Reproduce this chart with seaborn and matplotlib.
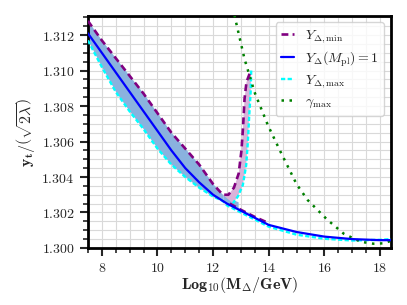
import numpy as np
import pandas as pd
import matplotlib
matplotlib.use("Agg")
import matplotlib.pyplot as plt
import seaborn as sns
from matplotlib.ticker import MultipleLocator, FuncFormatter

# === Values ===
# Y_Delta(M_pl) = 1  (blue, solid)
x_blue = [7.5, 8.0, 8.5, 9.0, 9.5, 10.0, 10.5, 11.0, 11.5, 12.0, 12.5, 13.0, 13.5, 14.0,
          15.0, 16.0, 17.0, 18.0, 18.4]
y_blue = [1.3121, 1.3110, 1.3099, 1.3088, 1.3077, 1.3066, 1.3055, 1.3045, 1.3037, 1.3030,
          1.3025, 1.3021, 1.3017, 1.3013, 1.3009, 1.30064, 1.30050, 1.30044, 1.30044]

# band edges on a common grid: Y_min (upper, purple) and Y_max (lower, cyan)
x_band = [7.5, 8.0, 8.5, 9.0, 9.5, 10.0, 10.5, 11.0, 11.5, 12.0, 12.35]
y_min_band = [1.3128, 1.3117, 1.3107, 1.3097, 1.3087, 1.3076, 1.3065, 1.3056, 1.3047, 1.3036, 1.3030]
y_max_band = [1.3117, 1.3102, 1.3088, 1.3077, 1.3067, 1.3056, 1.3047, 1.3040, 1.3034, 1.3029, 1.30265]

# shaded strip under the foot of the spike
x_foot = [12.35, 12.6, 12.9]
y_foot_top = [1.3030, 1.3028, 1.3026]
y_foot_bot = [1.30265, 1.3024, 1.30215]

# Y_min: bend into the spike
x_min_spike = [12.35, 12.55, 12.75, 12.92, 13.02, 13.08, 13.13, 13.20, 13.33]
y_min_spike = [1.3030, 1.3030, 1.3034, 1.3042, 1.3055, 1.3069, 1.3084, 1.30935, 1.3099]
# Y_min: short branch running along the band after the spike
x_min_tail = [12.6, 13.0, 13.5, 14.0]
y_min_tail = [1.3025, 1.30215, 1.30175, 1.3014]

# Y_max: right side of the spike (top to bottom), then the lower edge to the end
x_max_spike = [13.37, 13.35, 13.30, 13.25, 13.19, 13.07, 12.89, 12.71]
y_max_spike = [1.3100, 1.30878, 1.30748, 1.30598, 1.30467, 1.30355, 1.30290, 1.30252]
x_max_tail = [12.35, 12.5, 13.0, 13.5, 14.0, 15.0, 16.0, 17.0, 18.0, 18.4]
y_max_tail = [1.30265, 1.3024, 1.3020, 1.3016, 1.3012, 1.30075, 1.30052, 1.30042, 1.30046, 1.3005]

# gamma_max (green, dotted)
x_gam = [12.6, 12.77, 13.13, 13.49, 13.97, 14.4, 15.0, 15.4, 16.1, 16.7, 17.3, 17.76, 18.1, 18.4]
y_gam = [1.3140, 1.3131, 1.31065, 1.30878, 1.30692, 1.3055, 1.3036, 1.3027, 1.3016, 1.3008,
         1.30035, 1.30024, 1.30026, 1.3004]

sns.set_style("white")
plt.rcParams.update({
    "font.family": ["DejaVu Serif"],
    "mathtext.fontset": "cm",
})

fig = plt.figure(figsize=(4.07, 3.05), dpi=100)
ax = fig.add_axes([0.216, 0.187, 0.745, 0.762])

# === Shaded regions ===
band_col = "#8ab2de"
ax.fill_between(x_band, y_max_band, y_min_band, color=band_col, lw=0, zorder=1)
ax.fill_between(x_foot, y_foot_bot, y_foot_top, color=band_col, lw=0, zorder=1)
spike_x = x_min_spike + x_max_spike
spike_y = y_min_spike + y_max_spike
ax.fill(spike_x, spike_y, color="#d9b3d9", lw=0, zorder=1)

# === Lines ===
purple = "#800080"
dash_p = (0, (2.6, 1.6))
dash_c = (0, (1.8, 1.0))
min_df = pd.DataFrame({"x": x_band + x_min_spike[1:], "y": y_min_band + y_min_spike[1:]})
sns.lineplot(data=min_df, x="x", y="y", ax=ax, sort=False, estimator=None, color=purple,
             lw=1.9, ls=dash_p, label=r"$Y_{\Delta,\min}$", zorder=4)
sns.lineplot(x=x_min_tail, y=y_min_tail, ax=ax, sort=False, estimator=None, color=purple,
             lw=1.9, ls=dash_p, zorder=4)

max_df = pd.DataFrame({"x": x_band + x_max_tail[1:], "y": y_max_band + y_max_tail[1:]})
sns.lineplot(x=x_blue, y=y_blue, ax=ax, sort=False, estimator=None, color="blue",
             lw=1.6, label=r"$Y_\Delta(M_{\rm pl})=1$", zorder=5)
sns.lineplot(data=max_df, x="x", y="y", ax=ax, sort=False, estimator=None, color="cyan",
             lw=1.7, ls=dash_c, label=r"$Y_{\Delta,\max}$", zorder=3)
sns.lineplot(x=x_max_spike, y=y_max_spike, ax=ax, sort=False, estimator=None, color="cyan",
             lw=1.7, ls=dash_c, zorder=3)
sns.lineplot(x=x_gam, y=y_gam, ax=ax, sort=False, estimator=None, color="green",
             lw=1.8, ls=(0, (1, 2.2)), label=r"$\gamma_{\max}$", zorder=3)

# === Axes ===
ax.set_xlim(7.5, 18.4)
ax.set_ylim(1.300, 1.3131)
ax.xaxis.set_major_locator(MultipleLocator(2))
ax.xaxis.set_minor_locator(MultipleLocator(0.5))
ax.yaxis.set_major_locator(MultipleLocator(0.002))
ax.yaxis.set_minor_locator(MultipleLocator(0.0005))
ax.xaxis.set_major_formatter(FuncFormatter(lambda v, p: r"$%d$" % round(v)))
ax.yaxis.set_major_formatter(FuncFormatter(lambda v, p: r"$%.3f$" % v))
ax.tick_params(which="major", direction="out", length=6, width=1.5, labelsize=10,
               left=True, bottom=True)
ax.tick_params(which="minor", direction="out", length=3.5, width=1.2, left=True, bottom=True)
ax.grid(which="both", color="#d9d9d9", lw=0.8)
ax.set_axisbelow(True)
for s in ax.spines.values():
    s.set_linewidth(2)
    s.set_color("black")

ax.set_xlabel(r"$\mathbf{Log_{10}}(\mathbf{M}_{\boldsymbol{\Delta}}\mathbf{/GeV})$", fontsize=11.5, labelpad=0)
ax.set_ylabel(r"$\mathbf{y_t}/\left(\sqrt{\mathbf{2}\boldsymbol{\lambda}}\right)$", fontsize=11.5, labelpad=3)

ax.legend(loc="upper right", fontsize=10, frameon=True, handlelength=0.9,
          borderaxespad=0.5, labelspacing=0.3, edgecolor="#cccccc", fancybox=True)

fig.savefig("out.png", dpi=100)
